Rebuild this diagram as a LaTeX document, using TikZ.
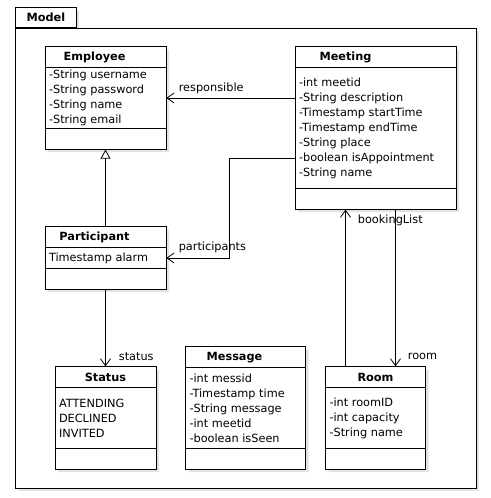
\documentclass[tikz,border=0pt]{standalone}
\usepackage{fontspec}
\setmainfont{DejaVu Sans}
\usetikzlibrary{arrows.meta, positioning, shapes.multipart, shadows}

\newcommand{\ctitle}[3]{\parbox[c][20pt][c]{#1}{\centering\hspace*{#2}\textbf{#3}}}
\newcommand{\cpart}[3]{\parbox[c][#2][c]{#1}{\raggedright #3}}

\tikzset{
  shade/.style={drop shadow={shadow xshift=3pt, shadow yshift=-3pt, fill=black!22}},
  pkg/.style={draw, fill=white, line width=0.8pt, inner sep=0pt, shade},
  umlclass/.style={rectangle split, rectangle split parts=3, draw, fill=white,
    line width=0.8pt, inner xsep=4pt, inner ysep=0pt, shade},
  assoc/.style={line width=0.8pt, -{Straight Barb[length=7pt, width=10pt]}},
  inherit/.style={line width=0.8pt, -{Triangle[open, length=9pt, width=10pt, fill=white]}},
  role/.style={inner sep=0pt, anchor=west}
}

\begin{document}
\begin{tikzpicture}[x=1pt, y=1pt, node distance=160pt, on grid,
    every node/.style={font=\fontsize{11.3}{15}\selectfont}]
  \useasboundingbox (0,0) rectangle (490,-498);

  % package frame
  \node[pkg, anchor=south west, minimum width=61pt, minimum height=20pt] (modeltab) at (15,-28) {\textbf{Model}};
  \node[pkg, anchor=north west, minimum width=461pt, minimum height=460pt] (model) at (15,-28) {};

  % classes
  \node[umlclass] (employee) at (105.5,-98) {\ctitle{113pt}{-22pt}{Employee}
    \nodepart{two}\cpart{113pt}{60pt}{-String username\\-String password\\-String name\\-String email}
    \nodepart{three}\cpart{113pt}{20pt}{}};
  \node[umlclass] [below=of employee] (participant) {\ctitle{113pt}{-22pt}{Participant}
    \nodepart{two}\cpart{113pt}{20pt}{Timestamp alarm}
    \nodepart{three}\cpart{113pt}{20pt}{}};
  \node[umlclass] [below=of participant] (status) {\ctitle{93pt}{0pt}{Status}
    \nodepart{two}\cpart{93pt}{60pt}{ATTENDING\\DECLINED\\INVITED}
    \nodepart{three}\cpart{93pt}{20pt}{}};
  \node[umlclass] [below right=30pt and 270pt of employee] (meeting) {\ctitle{153pt}{-60pt}{Meeting}
    \nodepart{two}\cpart{153pt}{120pt}{-int meetid\\-String description\\-Timestamp startTime\\-Timestamp endTime\\-String place\\-boolean isAppointment\\-String name}
    \nodepart{three}\cpart{153pt}{20pt}{}};
  \node[umlclass] [below=290pt of meeting] (room) {\ctitle{92pt}{0pt}{Room}
    \nodepart{two}\cpart{92pt}{60pt}{-int roomID\\-int capacity\\-String name}
    \nodepart{three}\cpart{92pt}{20pt}{}};
  \node[umlclass] [above left=10pt and 130pt of room] (message) {\ctitle{112pt}{-22pt}{Message}
    \nodepart{two}\cpart{112pt}{80pt}{-int messid\\-Timestamp time\\-String message\\-int meetid\\-boolean isSeen}
    \nodepart{three}\cpart{112pt}{20pt}{}};

  % connectors
  \draw[inherit] (participant.north) -- (employee.south);
  \draw[assoc] (employee.east -| meeting.west) -- (employee.east)
    node[role, xshift=12pt, yshift=10pt] {responsible};
  \draw[assoc] ([yshift=-30pt]meeting.west) -- ++(-65pt,0) |- (participant.east)
    node[role, xshift=12pt, yshift=11pt] {participants};
  \draw[assoc] (participant.south) -- (status.north)
    node[role, xshift=13pt, yshift=10pt] {status};
  \draw[assoc] ([xshift=-30pt]room.north) -- ([xshift=-30pt]room.north |- meeting.south)
    node[role, xshift=12pt, yshift=-11pt] {bookingList};
  \draw[assoc] ([xshift=20pt]meeting.south) -- ([xshift=20pt]meeting.south |- room.north)
    node[role, xshift=12pt, yshift=10pt] {room};
\end{tikzpicture}
\end{document}
